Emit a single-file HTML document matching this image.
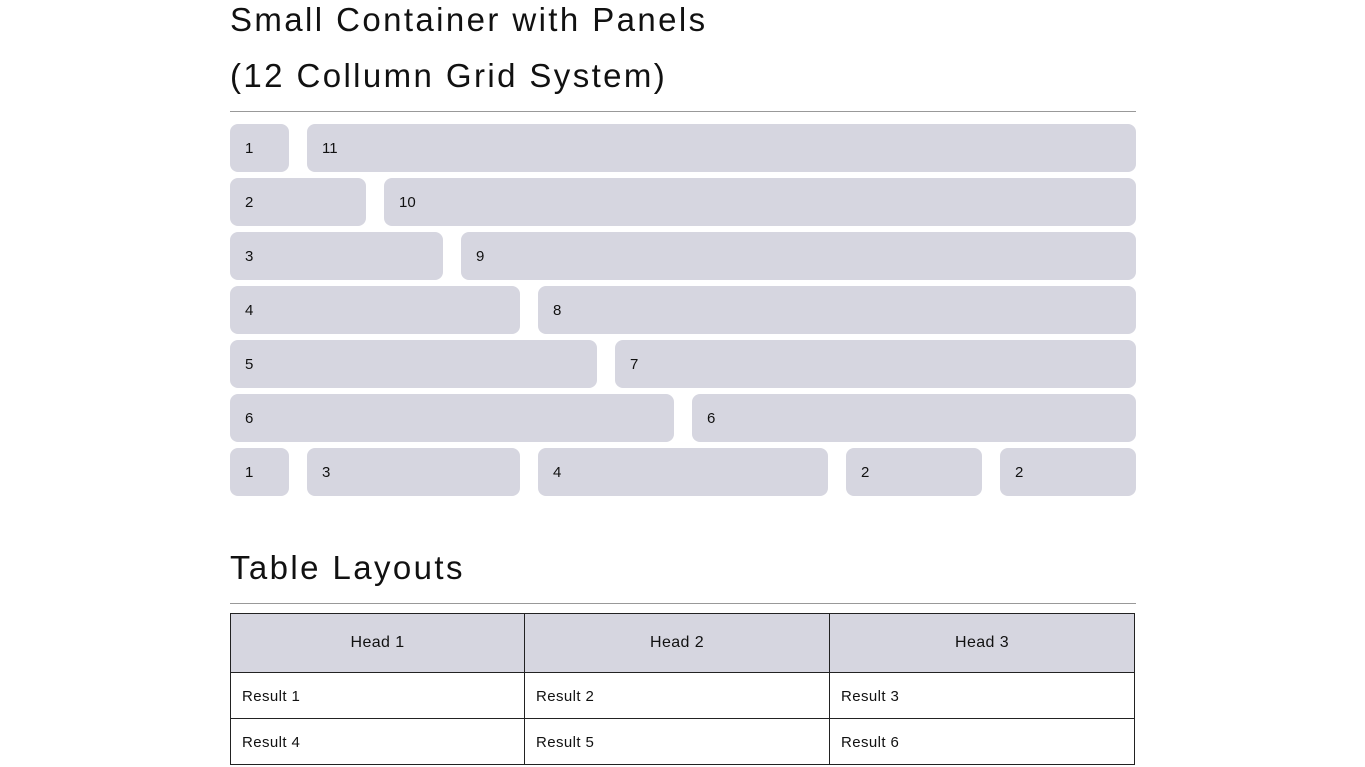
<!DOCTYPE html>
<html><head><style>
body{margin:0;background:#fff;font-family:"Liberation Sans",sans-serif;color:#111;}
.h{position:absolute;left:230px;font-size:33px;font-weight:normal;margin:0;letter-spacing:2.4px}
.hr{position:absolute;left:230px;width:906px;height:1px;background:#999}
.p{position:absolute;height:48px;background:#d6d6e0;border-radius:8px;font-size:15px;line-height:50px;padding-left:15px;box-sizing:border-box}
table{position:absolute;left:230px;top:613px;border-collapse:collapse;font-size:15px;table-layout:fixed;width:904px;letter-spacing:0.4px}
td,th{border:1px solid #222;padding:0 11px}
th{background:#d6d6e0;font-weight:normal;height:58px;font-size:16px}
td{height:43px;padding-top:2px}
</style></head><body>
<div class="h" style="top:1px">Small Container with Panels</div>
<div class="h" style="top:57px">(12 Collumn Grid System)</div>
<div class="hr" style="top:111px"></div>
<div class="p" style="left:230px;top:124px;width:59px">1</div>
<div class="p" style="left:307px;top:124px;width:829px">11</div>
<div class="p" style="left:230px;top:178px;width:136px">2</div>
<div class="p" style="left:384px;top:178px;width:752px">10</div>
<div class="p" style="left:230px;top:232px;width:213px">3</div>
<div class="p" style="left:461px;top:232px;width:675px">9</div>
<div class="p" style="left:230px;top:286px;width:290px">4</div>
<div class="p" style="left:538px;top:286px;width:598px">8</div>
<div class="p" style="left:230px;top:340px;width:367px">5</div>
<div class="p" style="left:615px;top:340px;width:521px">7</div>
<div class="p" style="left:230px;top:394px;width:444px">6</div>
<div class="p" style="left:692px;top:394px;width:444px">6</div>
<div class="p" style="left:230px;top:448px;width:59px">1</div>
<div class="p" style="left:307px;top:448px;width:213px">3</div>
<div class="p" style="left:538px;top:448px;width:290px">4</div>
<div class="p" style="left:846px;top:448px;width:136px">2</div>
<div class="p" style="left:1000px;top:448px;width:136px">2</div>
<div class="h" style="top:549px">Table Layouts</div>
<div class="hr" style="top:603px"></div>
<table>
<colgroup><col style="width:294px"><col style="width:305px"><col style="width:305px"></colgroup>
<tr><th>Head 1</th><th>Head 2</th><th>Head 3</th></tr>
<tr><td>Result 1</td><td>Result 2</td><td>Result 3</td></tr>
<tr><td>Result 4</td><td>Result 5</td><td>Result 6</td></tr>
</table>
</body></html>
